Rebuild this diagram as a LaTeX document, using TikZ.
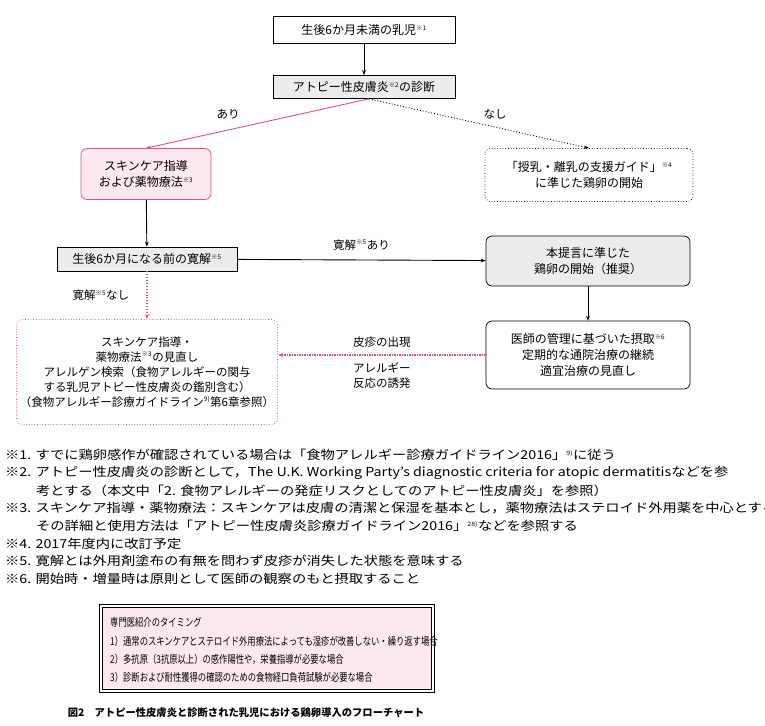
\documentclass[tikz,border=0pt]{standalone}
\usepackage{fontspec}
\setmainfont{Noto Sans CJK JP}
\newfontfamily\wideft[FakeStretch=1.16]{Noto Sans CJK JP}
\newfontfamily\narrft[FakeStretch=0.77]{Noto Sans CJK JP}
\usetikzlibrary{arrows.meta}
\definecolor{pk}{RGB}{226,80,130}
\definecolor{pkf}{RGB}{252,232,238}
\definecolor{gf}{RGB}{236,236,236}
\newcommand{\sn}[1]{\textsuperscript{\scalebox{0.8}{※#1}}}
\tikzset{
 bx/.style={draw,line width=0.7pt,align=center,font=\fontsize{12}{16}\selectfont,inner sep=2pt},
 lb/.style={font=\fontsize{11.5}{15}\selectfont,align=center,text=black},
 ar/.style={-{Stealth[length=5pt]},line width=0.9pt},
 fn/.style={anchor=west,font=\wideft\fontsize{12.3}{14}\selectfont,inner sep=0pt},
 tm/.style={anchor=west,font=\narrft\fontsize{10.8}{14}\selectfont,inner sep=0pt}
}
\begin{document}
\begin{tikzpicture}[x=1pt,y=-1pt]
\useasboundingbox (0,0) rectangle (765,725);
\node[bx,minimum width=182,minimum height=27] (a) at (364,30) {生後6か月未満の乳児\sn{1}};
\node[bx,fill=gf,minimum width=182,minimum height=23] (b) at (364,87) {アトピー性皮膚炎\sn{2}の診断};
\node[bx,draw=pk,fill=pkf,rounded corners=6pt,minimum width=130,minimum height=51] (c) at (146,174) {スキンケア指導\\および薬物療法\sn{3}};
\node[bx,dotted,rounded corners=6pt,minimum width=208,minimum height=53] (d) at (589,175) {「授乳・離乳の支援ガイド」\sn{4}\\に準じた鶏卵の開始};
\node[bx,fill=gf,minimum width=180,minimum height=24] (e) at (147,259) {生後6か月になる前の寛解\sn{5}};
\node[bx,fill=gf,rounded corners=6pt,minimum width=204,minimum height=50] (f) at (588,261) {本提言に準じた\\鶏卵の開始（推奨）};
\node[bx,rounded corners=6pt,minimum width=204,minimum height=68] (g) at (588,355) {医師の管理に基づいた摂取\sn{6}\\定期的な通院治療の継続\\適宜治療の見直し};
\node[bx,draw=pk,dotted,rounded corners=6pt,minimum width=261,minimum height=105,font=\fontsize{11.5}{15}\selectfont] (h) at (147,372) {スキンケア指導・\\薬物療法\sn{3}の見直し\\アレルゲン検索（食物アレルギーの関与\\する乳児アトピー性皮膚炎の鑑別含む）\\（食物アレルギー診療ガイドライン\textsuperscript{\scalebox{0.8}{9)}}第6章参照）};
\draw[ar] (a) -- (b);
\draw[ar,pk] (b.south) ++(5,0) coordinate (b1) -- (c.north);
\draw[ar,dotted] (b1) -- (d.north);
\node[lb] (l1) at (228,114) {あり};
\node[lb] (l2) at (495,114) {なし};
\draw[ar] (c) -- (e);
\draw[ar] (e) -- (f) node[lb,midway,above=6pt] (l3) {寛解\sn{5}あり};
\draw[ar] (f) -- (g);
\draw[ar,pk,dotted,line width=1.1pt] (e) -- (h.north) node[lb,midway,left=14pt] (l4) {寛解\sn{5}なし};
\draw[ar,pk,line width=2pt,dash pattern=on 1.5pt off 1pt] (g.west) -- (h.east|-g.west) node[lb,midway,above=3pt] (l5) {皮疹の出現} node[lb,midway,below=3pt] (l6) {アレルギー\\反応の誘発};
\node[fn] (n1) at (5,455) {※1. すでに鶏卵感作が確認されている場合は「食物アレルギー診療ガイドライン2016」\textsuperscript{\scalebox{0.7}{9)}}に従う};
\node[fn] (n2) at (5,473) {※2. アトピー性皮膚炎の診断として，The U.K. Working Party’s diagnostic criteria for atopic dermatitisなどを参};
\node[fn] (n2b) at (36,491) {考とする（本文中「2. 食物アレルギーの発症リスクとしてのアトピー性皮膚炎」を参照）};
\node[fn] (n3) at (5,508) {※3. スキンケア指導・薬物療法：スキンケアは皮膚の清潔と保湿を基本とし，薬物療法はステロイド外用薬を中心とする};
\node[fn] (n3b) at (36,526) {その詳細と使用方法は「アトピー性皮膚炎診療ガイドライン2016」\textsuperscript{\scalebox{0.7}{28)}}などを参照する};
\node[fn] (n4) at (5,544) {※4. 2017年度内に改訂予定};
\node[fn] (n5) at (5,561) {※5. 寛解とは外用剤塗布の有無を問わず皮疹が消失した状態を意味する};
\node[fn] (n6) at (5,579) {※6. 開始時・増量時は原則として医師の観察のもと摂取すること};
\draw[line width=0.6pt] (99,604) rectangle (434,692);
\draw[line width=0.6pt,fill=pkf] (102,607) rectangle (431,689);
\node[tm] (t0) at (110,622) {専門医紹介のタイミング};
\node[tm] (t1) at (110,641) {1）通常のスキンケアとステロイド外用療法によっても湿疹が改善しない・繰り返す場合};
\node[tm] (t2) at (110,659) {2）多抗原（3抗原以上）の感作陽性や，栄養指導が必要な場合};
\node[tm] (t3) at (110,677) {3）診断および耐性獲得の確認のための食物経口負荷試験が必要な場合};
\node[font=\fontsize{10.3}{14}\selectfont\bfseries] (cap) at (246,713) {図2　アトピー性皮膚炎と診断された乳児における鶏卵導入のフローチャート};
\end{tikzpicture}
\end{document}
